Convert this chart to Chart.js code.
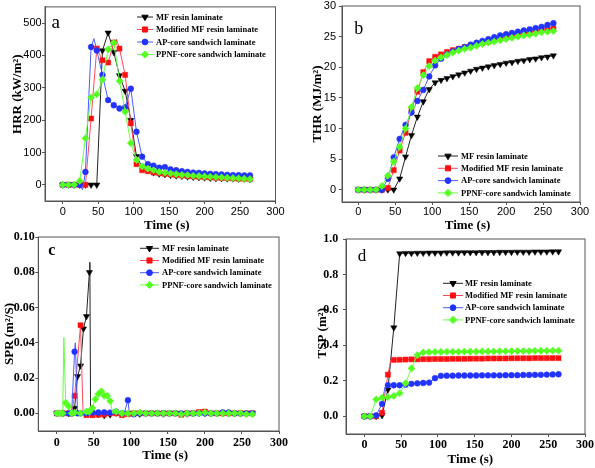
<!DOCTYPE html>
<html><head><meta charset="utf-8">
<script src="https://cdn.jsdelivr.net/npm/chart.js@4.4.0/dist/chart.umd.min.js"></script>
<style>
html,body{margin:0;padding:0;background:#fff;}
body{width:595px;height:468px;position:relative;overflow:hidden;}
.p{position:absolute;}
canvas{display:block;}
</style></head><body>
<div class="p" style="left:0;top:0;width:290px;height:240px"><canvas id="ca" width="290" height="240"></canvas></div>
<div class="p" style="left:295px;top:-4px;width:300px;height:244px"><canvas id="cb" width="300" height="244"></canvas></div>
<div class="p" style="left:0;top:226px;width:290px;height:242px"><canvas id="cc" width="290" height="242"></canvas></div>
<div class="p" style="left:295px;top:226px;width:300px;height:242px"><canvas id="cd" width="300" height="242"></canvas></div>
<script>
// ---------- series names / time categories ----------
const seriesNames = ['MF resin laminate','Modified MF resin laminate','AP-core sandwich laminate','PPNF-core sandwich laminate'];
const time8 = [0,8,16,24,32,40,48,56,64,72,80,88,96,104,112,120,128,136,144,152,160,168,176,184,192,200,208,216,224,232,240,248,256,264];

// ---------- tick labels ----------
const xTicks = [0,50,100,150,200,250,300];
const hrrTicks = [0,100,200,300,400,500];
const thrTicks = [0,5,10,15,20,25,30];
const sprTicks = [0,0.02,0.04,0.06,0.08,0.10];
const tspTicks = [0,0.2,0.4,0.6,0.8,1.0];

// ---------- (a) HRR, kW/m2 ----------
const hrrMF   = [0,0,0,0,0,0,0,415,470,410,338,290,200,88,55,45,38,34,32,30,28,27,25,24,23,22,21,20,20,19,19,18,18,17];
const hrrMod  = [0,0,0,0,0,205,421,385,378,440,421,340,190,64,45,42,38,36,34,32,30,29,27,26,25,24,23,22,21,21,20,19,19,18];
const hrrModExtra = [[76,450]];
const hrrAP   = [0,0,0,0,40,426,415,340,262,246,236,240,297,164,87,64,59,53,55,48,45,42,40,38,37,35,34,33,32,31,30,30,29,29];
const hrrAPExtra = [[28,-15],[44,452]];
const hrrPPNF = [0,0,0,12,144,270,280,325,419,439,321,226,129,77,57,50,45,40,38,35,33,31,30,28,27,26,25,24,23,22,21,20,19,18];

// ---------- (b) THR, MJ/m2 ----------
const thrMF   = [0,0,0,0,0,0,0,1.8,5.4,8.9,11.9,14.4,16.4,17.5,17.9,18.2,18.5,18.8,19.1,19.4,19.7,19.9,20.1,20.3,20.5,20.7,20.8,21.0,21.1,21.3,21.4,21.6,21.7,21.9];
const thrMod  = [0,0,0,0,0,0.3,3.2,6.4,9.3,13.0,16.0,19.2,21.0,21.7,22.1,22.5,22.8,23.0,23.3,23.5,23.8,24.0,24.2,24.5,24.7,24.9,25.1,25.3,25.5,25.7,25.9,26.0,26.2,26.3];
const thrAP   = [0,0,0,0,0,1.8,5.3,8.3,10.6,12.6,14.5,16.3,18.5,20.3,21.4,22.1,22.6,23.0,23.3,23.7,24.0,24.3,24.6,24.9,25.2,25.4,25.6,25.8,26.0,26.2,26.4,26.6,26.9,27.2];
const thrPPNF = [0,0,0,0,0.6,2.3,4.6,7.0,10.0,13.5,16.6,18.7,20.2,21.1,21.6,22.0,22.4,22.7,23.0,23.2,23.5,23.8,24.0,24.2,24.4,24.6,24.8,25.0,25.2,25.3,25.5,25.7,25.8,25.9];

// ---------- (c) SPR, m2/s ----------
const sprTimeMF = [0,8,16,20,24,28,32,36,40,44,44.6,45.6,48,56,64,72,80,88,96,104,112,120,128,136,144,152,160,168,176,184,192,200,208,216,224,232,240,248,256,264];
const sprMF     = [0,0,0,0,0.003,0.021,0.027,0.048,0.055,0.080,0.0857,0,-0.0005,-0.0006,-0.0012,-0.0008,0.0003,0,0.0002,0,-0.0003,0,0,0,-0.0002,0,0,0,-0.0002,0,0,0.0002,0,0,0,0,0,0,0,0.0002];
const sprTimeMod = [0,8,16,20,24,32,35.5,40,48,56,64,72,80,88,96,104,112,120,128,136,144,152,160,168,176,184,192,200,208,216,224,232,240,248,256,264];
const sprMod     = [0,0,0,0,0.010,0.050,-0.0008,-0.001,-0.001,-0.0008,-0.0006,0,0,-0.001,-0.0005,0,0,0,0,0,0,0,0,-0.0008,0,0,0.0008,0.001,0,0,0,0,0,0,0,0];
const sprTimeAP = [0,8,16,20,24,25,28,32,40,48,56,64,72,80,88,91,96,98,104,112,120,128,136,144,152,160,168,176,184,192,200,208,216,224,232,240,248,256,264];
const sprAP     = [0,0,0,0,0.035,0.040,0,0,0,0.0005,0.0005,0.0006,0.0004,0.001,0,0,0.0075,0,-0.0005,0,0,0,0,0,0,0,0,0,0,0,0,0,0,0.0006,0.0005,0,0,0,0];
const sprTimePPNF = [0,4,8,9.5,12,16,20,24,32,40,44,48,52,56,60,64,68,72,75.5,80,88,96,104,112,120,128,136,144,152,160,168,176,184,192,200,208,216,224,232,240,248,256,264];
const sprPPNF     = [0,0,0,0.043,0.006,0.004,0,0.0005,0,0.001,0.001,0.003,0.008,0.011,0.0125,0.010,0.010,0.007,0,0.001,0,0,0,0.0005,0,0,0,0,0,0,-0.0005,0,0,0,0.0005,0,0,0,0,0,0,-0.0005,-0.0005];

// ---------- (d) TSP, m2 ----------
const tspMF   = [0,0,0,0.005,0.15,0.50,0.918,0.92,0.92,0.921,0.921,0.922,0.922,0.922,0.923,0.923,0.923,0.924,0.924,0.924,0.925,0.925,0.925,0.926,0.926,0.926,0.927,0.927,0.927,0.928,0.928,0.928,0.929,0.929];
const tspMod  = [0,0,0,0.02,0.235,0.318,0.319,0.32,0.321,0.321,0.322,0.322,0.323,0.323,0.323,0.324,0.324,0.324,0.325,0.325,0.325,0.326,0.326,0.326,0.326,0.327,0.327,0.327,0.327,0.328,0.328,0.328,0.328,0.328];
const tspModExtra = [[36,0.318]];
const tspAP   = [0,0,0.005,0.07,0.175,0.175,0.175,0.178,0.183,0.186,0.188,0.19,0.215,0.228,0.229,0.229,0.23,0.23,0.23,0.23,0.231,0.231,0.231,0.231,0.232,0.232,0.232,0.233,0.233,0.234,0.234,0.235,0.236,0.237];
const tspAPExtra = [[28,0.165]];
const tspPPNF = [0,0,0.095,0.105,0.108,0.115,0.13,0.186,0.27,0.345,0.36,0.362,0.363,0.363,0.364,0.364,0.364,0.365,0.365,0.365,0.366,0.366,0.366,0.367,0.367,0.367,0.368,0.368,0.368,0.369,0.369,0.369,0.37,0.37];

// ---------- styling ----------
const markerColors = ['#000000','#ff1010','#2233ff','#55ff22'];
const lineColors   = ['#222222','#ff4a5a','#4a5cff','#66ff44'];
const markerStyles = ['triangle','rect','circle','rectRot'];
const markerRot    = [180,0,0,0];
const markerSize   = [3.6,3.6,2.9,3.6];
const axisColor = '#555555';

function pts(times, vals, extra) {
  if (times.length !== vals.length) throw new Error('length mismatch ' + times.length + ' vs ' + vals.length);
  const out = times.map((t, i) => ({x: t, y: vals[i]}));
  (extra || []).forEach(e => out.push({x: e[0], y: e[1]}));
  out.sort((a, b) => a.x - b.x);
  return out;
}

function ds(i, data, step) {
  return {
    label: seriesNames[i], data,
    borderColor: lineColors[i], backgroundColor: markerColors[i],
    pointBackgroundColor: markerColors[i], pointBorderColor: markerColors[i],
    pointStyle: markerStyles[i], pointRotation: markerRot[i],
    pointRadius: ctx => (ctx.raw && Math.abs(ctx.raw.x % step) < 1e-9) ? markerSize[i] : 0,
    pointBorderWidth: 0.5, borderWidth: 1, tension: 0, fill: false, order: 3 - i
  };
}

const legendPlugin = {
  id: 'boxLegend',
  afterDraw(chart, args, o) {
    const ctx = chart.ctx;
    ctx.save();
    ctx.font = o.font; ctx.textBaseline = 'middle'; ctx.textAlign = 'left';
    chart.data.datasets.forEach((d, i) => {
      const y = o.y + i * o.row;
      ctx.strokeStyle = d.borderColor; ctx.lineWidth = 1;
      ctx.beginPath(); ctx.moveTo(o.x, y); ctx.lineTo(o.x + o.len, y); ctx.stroke();
      ctx.fillStyle = d.pointBackgroundColor; ctx.strokeStyle = d.pointBorderColor;
      Chart.helpers.drawPoint(ctx, {pointStyle: d.pointStyle, rotation: d.pointRotation, radius: markerSize[i], borderWidth: 0.5}, o.x + o.len / 2, y);
      ctx.fillStyle = '#000';
      ctx.fillText(seriesNames[i], o.x + o.len + o.gap, y + 0.5);
    });
    ctx.restore();
  }
};

const panelPlugin = {
  id: 'panelDeco',
  afterDraw(chart, args, o) {
    const ctx = chart.ctx; const a = chart.chartArea;
    ctx.save();
    ctx.strokeStyle = axisColor; ctx.lineWidth = 1;
    ctx.strokeRect(a.left, a.top, a.right - a.left, a.bottom - a.top);
    ctx.fillStyle = '#000'; ctx.font = o.font; ctx.textBaseline = 'alphabetic'; ctx.textAlign = 'left';
    ctx.fillText(o.letter, o.lx, o.ly);
    ctx.restore();
  }
};

function makeChart(id, datasets, c) {
  return new Chart(document.getElementById(id), {
    type: 'line',
    data: {datasets},
    options: {
      responsive: false, animation: false, devicePixelRatio: 1,
      layout: {padding: c.pad},
      plugins: {legend: {display: false}, tooltip: {enabled: false}, boxLegend: c.legend, panelDeco: c.frame},
      scales: {
        x: {
          type: 'linear', min: c.xmin, max: c.xmax,
          afterBuildTicks: s => { s.ticks = xTicks.map(v => ({value: v})); },
          afterFit: s => { s.height = c.xH; },
          grid: {drawOnChartArea: false, drawTicks: true, tickLength: 3, color: axisColor},
          border: {color: axisColor, width: 1},
          ticks: {font: Object.assign({}, c.tickFont), color: '#000', padding: c.xpad, maxRotation: 0, autoSkip: false},
          title: {display: true, text: c.xTitle, font: {family: 'Liberation Serif', size: 13, weight: 'bold'}, color: '#000', padding: {top: 0, bottom: c.xtpb}}
        },
        y: {
          type: 'linear', min: c.ymin, max: c.ymax,
          afterBuildTicks: s => { s.ticks = c.yTicks.map(v => ({value: v})); },
          afterFit: s => { s.width = c.yW; },
          grid: {drawOnChartArea: false, drawTicks: true, tickLength: 3, color: axisColor},
          border: {color: axisColor, width: 1},
          ticks: {font: Object.assign({}, c.tickFont), color: '#000', padding: c.ypad, autoSkip: false, callback: v => c.fmt(v)},
          title: {display: true, text: c.yTitle, font: {family: 'Liberation Serif', size: 13, weight: 'bold'}, color: '#000', padding: {top: c.ytpt, bottom: 0}}
        }
      }
    },
    plugins: [legendPlugin, panelPlugin]
  });
}

const sansTick = {family: 'Liberation Sans', size: 11};
const serifTick = {family: 'Liberation Serif', size: 12, weight: 'bold'};
const legendFont = 'bold 8.5px "Liberation Serif"';

// (a)
makeChart('ca', [
  ds(0, pts(time8, hrrMF), 8), ds(1, pts(time8, hrrMod, hrrModExtra), 8),
  ds(2, pts(time8, hrrAP, hrrAPExtra), 8), ds(3, pts(time8, hrrPPNF), 8)
], {
  pad: {top: 5, right: 14.5, left: 0, bottom: 0}, xmin: -25, xmax: 300, ymin: -50, ymax: 550,
  xH: 39, yW: 45, xpad: 1, ypad: 0.3, xtpb: 6.2, ytpt: 10.2, tickFont: sansTick,
  xTitle: '    Time (s)', yTitle: '      HRR (kW/m²)', yTicks: hrrTicks, fmt: v => String(v),
  legend: {x: 137, y: 17, row: 12.5, len: 16, gap: 3, font: legendFont},
  frame: {letter: 'a', lx: 51.5, ly: 28.3, font: '19px "Liberation Serif"'}
});

// (b)
makeChart('cb', [
  ds(0, pts(time8, thrMF), 8), ds(1, pts(time8, thrMod), 8),
  ds(2, pts(time8, thrAP), 8), ds(3, pts(time8, thrPPNF), 8)
], {
  pad: {top: 10, right: 15, left: 0, bottom: 0}, xmin: -22, xmax: 300, ymin: -2, ymax: 30,
  xH: 38, yW: 47, xpad: 0.5, ypad: 3, xtpb: 6.2, ytpt: 15.2, tickFont: sansTick,
  xTitle: '    Time (s)', yTitle: 'THR (MJ/m²)', yTicks: thrTicks, fmt: v => String(v),
  legend: {x: 143, y: 160, row: 12.3, len: 20, gap: 3, font: legendFont},
  frame: {letter: 'b', lx: 59.3, ly: 38, font: '18px "Liberation Serif"'}
});

// (c)
makeChart('cc', [
  ds(0, pts(sprTimeMF, sprMF), 4), ds(1, pts(sprTimeMod, sprMod), 4),
  ds(2, pts(sprTimeAP, sprAP), 4), ds(3, pts(sprTimePPNF, sprPPNF), 4)
], {
  pad: {top: 11, right: 9.3, left: 0, bottom: 0}, xmin: -25, xmax: 300, ymin: -0.01, ymax: 0.10,
  xH: 37, yW: 38.3, xpad: 2, ypad: 0.5, xtpb: 4.2, ytpt: 1.5, tickFont: serifTick,
  xTitle: '    Time (s)', yTitle: 'SPR (m²/S)', yTicks: sprTicks, fmt: v => v.toFixed(2),
  legend: {x: 140, y: 22.3, row: 12.2, len: 19, gap: 3, font: legendFont},
  frame: {letter: 'c', lx: 48.3, ly: 29, font: 'bold 16px "Liberation Serif"'}
});

// (d)
makeChart('cd', [
  ds(0, pts(time8, tspMF), 8), ds(1, pts(time8, tspMod, tspModExtra), 8),
  ds(2, pts(time8, tspAP, tspAPExtra), 8), ds(3, pts(time8, tspPPNF), 8)
], {
  pad: {top: 13, right: 10, left: 0, bottom: 0}, xmin: -25, xmax: 300, ymin: -0.1, ymax: 1.0,
  xH: 34, yW: 51, xpad: 0.5, ypad: 4.7, xtpb: 0.2, ytpt: 20.2, tickFont: serifTick,
  xTitle: '   Time (s)', yTitle: '  TSP (m²)', yTicks: tspTicks, fmt: v => v.toFixed(1),
  legend: {x: 148, y: 57.3, row: 12.2, len: 20, gap: 2, font: legendFont},
  frame: {letter: 'd', lx: 62.7, ly: 34.7, font: '17px "Liberation Serif"'}
});
</script>
</body></html>
